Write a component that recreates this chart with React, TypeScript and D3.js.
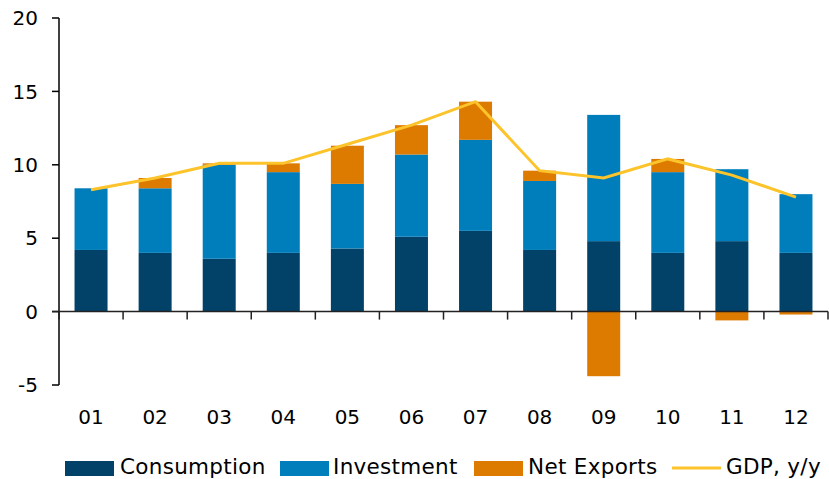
import React from 'react';
import * as d3 from 'd3';

const categories = ['01', '02', '03', '04', '05', '06', '07', '08', '09', '10', '11', '12'];
const consumption = [4.2, 4.0, 3.6, 4.0, 4.3, 5.1, 5.5, 4.2, 4.8, 4.0, 4.8, 4.0];
const investment = [4.2, 4.4, 6.4, 5.5, 4.4, 5.6, 6.2, 4.7, 8.6, 5.5, 4.9, 4.0];
const netExports = [0.0, 0.7, 0.1, 0.6, 2.6, 2.0, 2.6, 0.7, -4.4, 0.9, -0.6, -0.2];
const gdp = [8.3, 9.1, 10.1, 10.1, 11.4, 12.7, 14.3, 9.6, 9.1, 10.4, 9.3, 7.8];
const yTicks = [-5, 0, 5, 10, 15, 20];

const series = [
  { key: 'consumption', label: 'Consumption', color: '#024268' },
  { key: 'investment', label: 'Investment', color: '#007dbb' },
  { key: 'netExports', label: 'Net Exports', color: '#dd7a00' },
];
const LINE_COLOR = '#fcc42a';
const FONT = '"DejaVu Sans", Verdana, sans-serif';

const W = 829;
const H = 479;

export default function App() {
  const x = d3.scaleBand<string>()
    .domain(categories)
    .range([59, 828])
    .paddingInner(0.485)
    .paddingOuter(0.2425);
  const y = d3.scaleLinear().domain([-5, 20]).range([385, 18]);

  const rows = categories.map((c, i) => ({
    cat: c,
    consumption: consumption[i],
    investment: investment[i],
    netExports: netExports[i],
  }));

  const stacked = d3.stack<any>()
    .keys(series.map(s => s.key))
    .offset(d3.stackOffsetDiverging)(rows);

  const line = d3.line<number>()
    .x((_, i) => (x(categories[i]) as number) + x.bandwidth() / 2)
    .y(d => y(d));

  const step = x.step();
  const xTicks = d3.range(categories.length + 1).map(i => 59 + i * step);

  // legend layout
  const legend = [
    { x: 65, textX: 120, ...series[0], type: 'rect' },
    { x: 280, textX: 333, ...series[1], type: 'rect' },
    { x: 474, textX: 528, ...series[2], type: 'rect' },
    { x: 672, textX: 726, label: 'GDP, y/y', color: LINE_COLOR, type: 'line' },
  ];

  return (
    <svg width={W} height={H} style={{ position: 'absolute', left: 0, top: 0 }} fontFamily={FONT}>
      <rect width={W} height={H} fill="#fff" />
      {stacked.map((layer, li) => (
        <g key={layer.key} fill={series[li].color}>
          {layer.map((d, i) => (
            <rect
              key={i}
              x={x(categories[i])}
              width={x.bandwidth()}
              y={y(Math.max(d[0], d[1]))}
              height={Math.abs(y(d[0]) - y(d[1]))}
            />
          ))}
        </g>
      ))}

      {/* y axis */}
      <line x1={59} x2={59} y1={y(20)} y2={y(-5)} stroke="#000" strokeWidth={1.5} />
      {yTicks.map(t => (
        <g key={t}>
          <line x1={52} x2={59} y1={y(t)} y2={y(t)} stroke="#000" strokeWidth={1.5} />
          <text x={38} y={y(t)} dy="0.36em" textAnchor="end" fontSize={20} fill="#000">{t}</text>
        </g>
      ))}

      {/* x axis */}
      <line x1={52} x2={828} y1={y(0)} y2={y(0)} stroke="#222" strokeWidth={1.5} />
      {xTicks.map((tx, i) => (
        <line key={i} x1={tx} x2={tx} y1={y(0)} y2={y(0) + 8} stroke="#222" strokeWidth={1.5} />
      ))}
      {categories.map(c => (
        <text key={c} x={(x(c) as number) + x.bandwidth() / 2} y={424} textAnchor="middle" fontSize={20} fill="#000">{c}</text>
      ))}

      <path d={line(gdp) as string} fill="none" stroke={LINE_COLOR} strokeWidth={3} />

      {legend.map(l => (
        <g key={l.label}>
          {l.type === 'rect'
            ? <rect x={l.x} y={461} width={49} height={15} fill={l.color} />
            : <line x1={l.x} x2={l.x + 49} y1={468} y2={468} stroke={l.color} strokeWidth={3} />}
          <text x={l.textX} y={474} fontSize={21.5} letterSpacing={0.3} fill="#000">{l.label}</text>
        </g>
      ))}
    </svg>
  );
}
